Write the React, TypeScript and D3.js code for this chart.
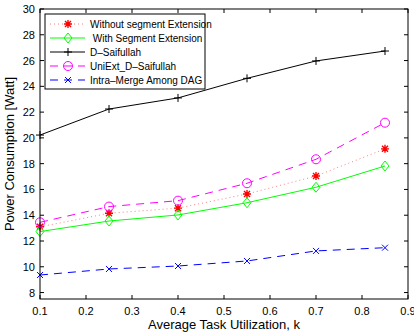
import React from "react";
import * as d3 from "d3";

const xValues = [0.1, 0.25, 0.4, 0.55, 0.7, 0.85];
const withoutSeg = [13.1, 14.15, 14.55, 15.65, 17.04, 19.15];
const withSeg = [12.73, 13.55, 14.02, 14.97, 16.17, 17.82];
const dSaifullah = [20.22, 22.24, 23.1, 24.62, 25.97, 26.74];
const uniExt = [13.45, 14.67, 15.13, 16.48, 18.34, 21.18];
const intraMerge = [9.36, 9.83, 10.06, 10.45, 11.23, 11.48];
const xTicks = [0.1, 0.2, 0.3, 0.4, 0.5, 0.6, 0.7, 0.8, 0.9];
const yTicks = [8, 10, 12, 14, 16, 18, 20, 22, 24, 26, 28, 30];

type Series = {
  name: string;
  values: number[];
  color: string;
  lineColor: string;
  dash: string;
  marker: string;
};

const series: Series[] = [
  { name: "Without segment Extension", values: withoutSeg, color: "#ff0000", lineColor: "#ff7f7f", dash: "1,3", marker: "star" },
  { name: " With Segment Extension", values: withSeg, color: "#00ff00", lineColor: "#00ff00", dash: "", marker: "diamond" },
  { name: "D\u2013Saifullah", values: dSaifullah, color: "#000000", lineColor: "#000000", dash: "", marker: "plus" },
  { name: "UniExt_D\u2013Saifullah", values: uniExt, color: "#ff00ff", lineColor: "#ff00ff", dash: "8,6", marker: "circle" },
  { name: "Intra\u2013Merge Among DAG", values: intraMerge, color: "#0000ff", lineColor: "#0000ff", dash: "8,6", marker: "x" },
];

const L = 40, R = 408, T = 9, B = 299;
const font = "'Liberation Sans', Arial, Helvetica, sans-serif";

function Marker({ type, x, y, color }: { type: string; x: number; y: number; color: string }) {
  const s = 4;
  if (type === "plus")
    return <path d={`M${x - s},${y}H${x + s}M${x},${y - s}V${y + s}`} stroke={color} strokeWidth={1} fill="none" />;
  if (type === "x") {
    const k = 3;
    return <path d={`M${x - k},${y - k}L${x + k},${y + k}M${x - k},${y + k}L${x + k},${y - k}`} stroke={color} strokeWidth={1} fill="none" />;
  }
  if (type === "circle") return <circle cx={x} cy={y} r={4.5} stroke={color} strokeWidth={1} fill="none" />;
  if (type === "diamond")
    return <path d={`M${x},${y - 5}L${x + 4},${y}L${x},${y + 5}L${x - 4},${y}Z`} stroke={color} strokeWidth={1} fill="none" />;
  const k = 3;
  return (
    <path
      d={`M${x - s},${y}H${x + s}M${x},${y - s}V${y + s}M${x - k},${y - k}L${x + k},${y + k}M${x - k},${y + k}L${x + k},${y - k}`}
      stroke={color}
      strokeWidth={1.4}
      fill="none"
    />
  );
}

export default function App() {
  const x = d3.scaleLinear().domain([0.1, 0.9]).range([L, R]);
  const y = d3.scaleLinear().domain([7.5, 30]).range([B, T]);
  const line = d3
    .line<number>()
    .x((_, i) => x(xValues[i]))
    .y((d) => y(d));
  const tl = 4;
  const legX = 45, legY = 14, legW = 160, legH = 75;
  return (
    <svg width={414} height={335} style={{ position: "absolute", left: 0, top: 0 }}>
      <rect width={414} height={335} fill="#fff" />
      {series.map((s) => (
        <g key={s.name}>
          <path d={line(s.values) || ""} fill="none" stroke={s.lineColor} strokeWidth={1} strokeDasharray={s.dash} />
          {s.values.map((v, i) => (
            <Marker key={i} type={s.marker} x={x(xValues[i])} y={y(v)} color={s.color} />
          ))}
        </g>
      ))}
      <rect x={L} y={T} width={R - L} height={B - T} fill="none" stroke="#000" strokeWidth={1} />
      {xTicks.map((t) => (
        <g key={t}>
          <line x1={x(t)} x2={x(t)} y1={B} y2={B - tl} stroke="#000" />
          <line x1={x(t)} x2={x(t)} y1={T} y2={T + tl} stroke="#000" />
          <text x={x(t)} y={315} textAnchor="middle" fontFamily={font} fontSize={11}>
            {String(t)}
          </text>
        </g>
      ))}
      {yTicks.map((t) => (
        <g key={t}>
          <line x1={L} x2={L + tl} y1={y(t)} y2={y(t)} stroke="#000" />
          <line x1={R} x2={R - tl} y1={y(t)} y2={y(t)} stroke="#000" />
          <text x={35} y={y(t) + 4} textAnchor="end" fontFamily={font} fontSize={11}>
            {t}
          </text>
        </g>
      ))}
      <text x={224} y={329} textAnchor="middle" fontFamily={font} fontSize={13}>
        Average Task Utilization, k
      </text>
      <text transform={`translate(14,${(T + B) / 2}) rotate(-90)`} textAnchor="middle" fontFamily={font} fontSize={13}>
        Power Consumption [Watt]
      </text>
      <rect x={legX} y={legY} width={legW} height={legH} fill="#fff" stroke="#000" strokeWidth={1} />
      {series.map((s, i) => {
        const ly = 24 + i * 14;
        return (
          <g key={s.name}>
            <line x1={50} x2={85} y1={ly} y2={ly} stroke={s.lineColor} strokeDasharray={s.dash} strokeWidth={1} />
            <Marker type={s.marker} x={68} y={ly} color={s.color} />
            <text x={90} y={ly + 3.5} fontFamily={font} fontSize={10} style={{ whiteSpace: "pre" }}>
              {s.name}
            </text>
          </g>
        );
      })}
    </svg>
  );
}
